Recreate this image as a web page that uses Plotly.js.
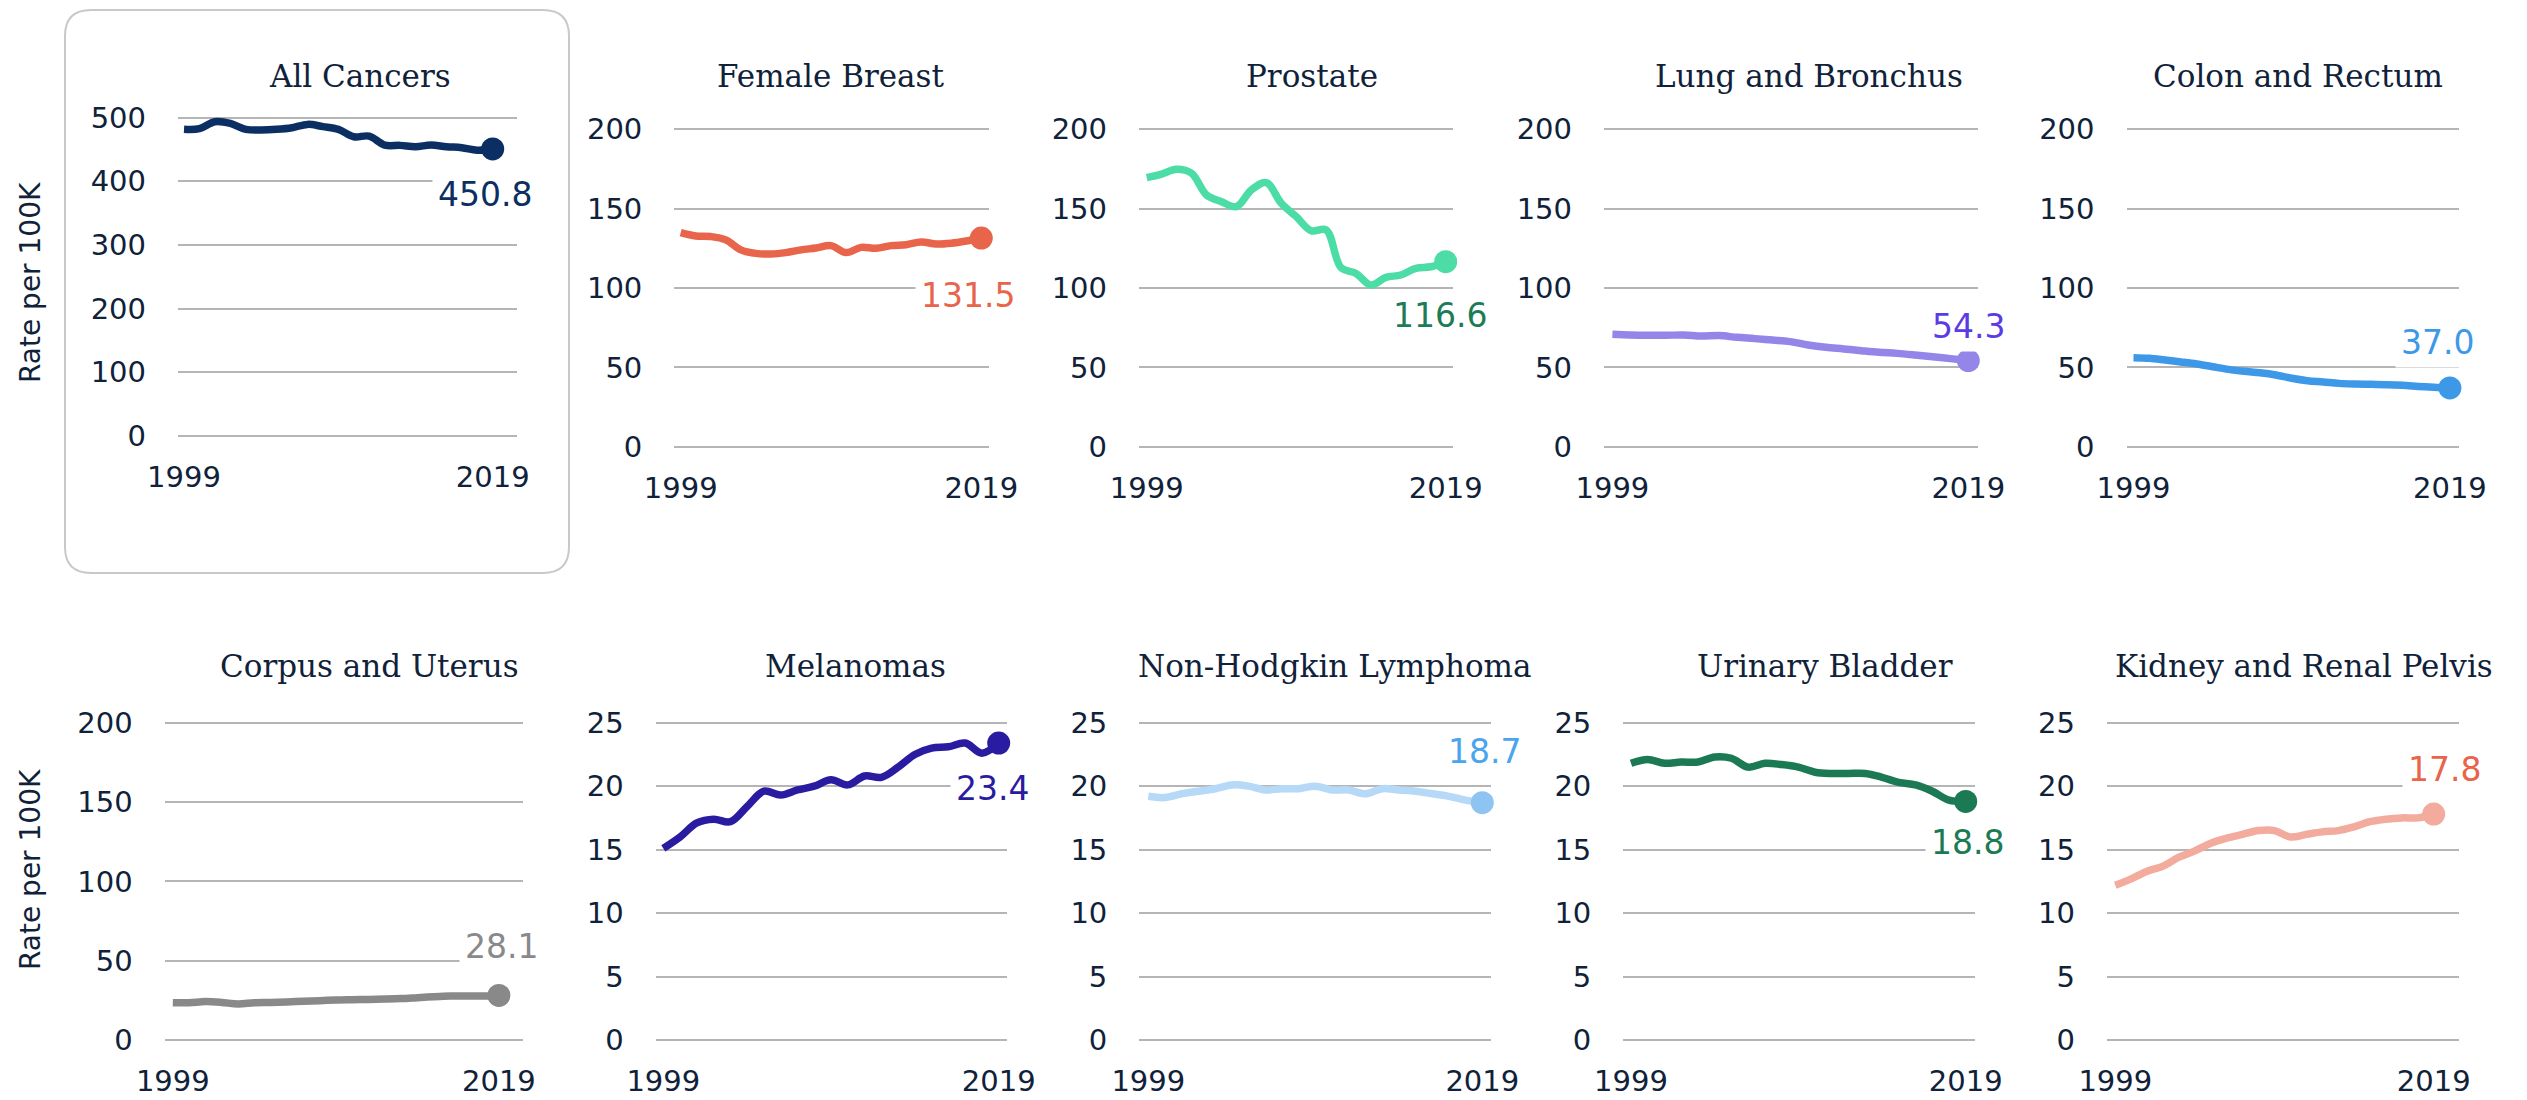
<!DOCTYPE html>
<html>
<head>
<meta charset="utf-8">
<script src="https://cdn.plot.ly/plotly-3.0.1.min.js"></script>
<style>
  html, body { margin: 0; padding: 0; background: #fff; }
</style>
</head>
<body>
<div id="chart" style="width:2527px;height:1100px"></div>
<script>
// incidence rate per 100K, 1999-2019
const years = [1999, 2000, 2001, 2002, 2003, 2004, 2005, 2006, 2007, 2008, 2009,
               2010, 2011, 2012, 2013, 2014, 2015, 2016, 2017, 2018, 2019];

const siteNames = ['All Cancers', 'Female Breast', 'Prostate', 'Lung and Bronchus', 'Colon and Rectum',
                   'Corpus and Uterus', 'Melanomas', 'Non-Hodgkin Lymphoma', 'Urinary Bladder', 'Kidney and Renal Pelvis'];

const allCancers = [481.7, 482.7, 493.7, 491.0, 481.7, 480.6, 481.7, 484.3, 489.5, 486.0, 481.7,
                    470.0, 471.0, 457.0, 456.5, 454.4, 457.0, 454.4, 452.8, 449.0, 450.8];
const femaleBreast = [134.9, 132.8, 132.4, 130.3, 124.0, 121.8, 121.4, 122.3, 124.0, 125.2, 126.7,
                      122.3, 125.6, 125.0, 126.7, 127.3, 129.0, 127.7, 128.2, 129.6, 131.5];
const prostate = [169.5, 171.8, 174.8, 172.3, 158.6, 154.4, 151.3, 161.8, 166.4, 153.4, 145.0,
                  136.1, 136.6, 112.8, 109.2, 101.9, 106.7, 108.2, 112.4, 113.4, 116.6];
const lung = [70.8, 70.4, 70.2, 70.2, 70.4, 69.7, 70.0, 68.9, 68.1, 67.2, 66.2,
              64.1, 62.6, 61.6, 60.5, 59.5, 58.8, 57.8, 56.7, 55.5, 54.3];
const colon = [56.1, 55.7, 54.6, 53.4, 52.1, 50.4, 48.7, 47.5, 46.6, 45.2, 43.1,
               41.6, 40.8, 39.9, 39.5, 39.3, 39.1, 38.7, 38.0, 37.4, 37.0];
const corpus = [23.5, 23.5, 24.2, 23.7, 22.7, 23.5, 23.7, 24.0, 24.4, 24.8, 25.2,
                25.4, 25.6, 25.8, 26.1, 26.7, 27.3, 27.7, 27.7, 27.7, 28.1];
const melanoma = [15.1, 16.0, 17.1, 17.4, 17.2, 18.4, 19.6, 19.3, 19.7, 20.0, 20.5,
                  20.1, 20.8, 20.7, 21.5, 22.5, 23.0, 23.1, 23.4, 22.6, 23.4];
const lymphoma = [19.2, 19.1, 19.4, 19.6, 19.8, 20.1, 20.0, 19.7, 19.8, 19.8, 20.0,
                  19.7, 19.7, 19.4, 19.8, 19.7, 19.6, 19.4, 19.2, 18.9, 18.7];
const bladder = [21.8, 22.1, 21.8, 21.9, 21.9, 22.3, 22.2, 21.5, 21.8, 21.7, 21.5,
                 21.1, 21.0, 21.0, 21.0, 20.7, 20.3, 20.1, 19.6, 18.9, 18.8];
const kidney = [12.2, 12.7, 13.3, 13.7, 14.4, 14.9, 15.5, 15.9, 16.2, 16.5, 16.5,
                16.0, 16.2, 16.4, 16.5, 16.8, 17.2, 17.4, 17.5, 17.5, 17.8];

const ticks500 = [0, 100, 200, 300, 400, 500];
const ticks200 = [0, 50, 100, 150, 200];
const ticks25 = [0, 5, 10, 15, 20, 25];
const yearTicks = [1999, 2019];

const W = 2527, H = 1100;
const NAVY = '#10223a';
const SANS = 'DejaVu Sans, sans-serif';
const SERIF = 'DejaVu Serif, serif';

// geometry is in page pixels: grid extent, first/last year position, top tick / zero line
const row1 = { yTop: 129.3, yZero: 446.7, titleY: 76 };
const row2 = { yTop: 722.7, yZero: 1040, titleY: 666 };
const panels = [
  { values: allCancers, ticks: ticks500, line: '#0b2f63', dot: '#0b2f63', label: '#0b2f63',
    gx: [178, 517], xs: 184, xe: 492.7, yTop: 117.7, yZero: 435.7, titleY: 76, titleX: 360, dx: -8, dy: 46 },
  { values: femaleBreast, ticks: ticks200, line: '#e8644a', dot: '#e8644a', label: '#e8644a',
    gx: [674.3, 988.7], xs: 680.7, xe: 981.3, ...row1, titleX: 830, dx: -13, dy: 57 },
  { values: prostate, ticks: ticks200, line: '#4cdca6', dot: '#4cdca6', label: '#1b7c55',
    gx: [1139, 1453.3], xs: 1146.7, xe: 1445.7, ...row1, titleX: 1312, dx: -6, dy: 54 },
  { values: lung, ticks: ticks200, line: '#9486e9', dot: '#9486e9', label: '#5a3be4',
    gx: [1604, 1978], xs: 1612.4, xe: 1968.3, ...row1, titleX: 1809, dx: 0, dy: -34 },
  { values: colon, ticks: ticks200, line: '#3d99e8', dot: '#3d99e8', label: '#3d99e8',
    gx: [2126.5, 2458.5], xs: 2133.5, xe: 2449.9, ...row1, titleX: 2298, dx: -12, dy: -45 },
  { values: corpus, ticks: ticks200, line: '#898989', dot: '#898989', label: '#898989',
    gx: [164.7, 523], xs: 172.8, xe: 498.9, ...row2, titleX: 369, dx: 3, dy: -49 },
  { values: melanoma, ticks: ticks25, line: '#2a1ca0', dot: '#2a1ca0', label: '#2a1ca0',
    gx: [655.7, 1007.3], xs: 663.3, xe: 998.7, ...row2, titleX: 855, dx: -6, dy: 45 },
  { values: lymphoma, ticks: ticks25, line: '#b5d9f6', dot: '#8ec4f1', label: '#4aa4ee',
    gx: [1139.3, 1491], xs: 1148.3, xe: 1482.3, ...row2, titleX: 1334, dx: 2, dy: -51 },
  { values: bladder, ticks: ticks25, line: '#1b7a54', dot: '#1b7a54', label: '#1b7a54',
    gx: [1623.3, 1975], xs: 1631, xe: 1965.7, ...row2, titleX: 1825, dx: 2, dy: 41 },
  { values: kidney, ticks: ticks25, line: '#f2ab9c', dot: '#f2ab9c', label: '#e8644a',
    gx: [2107, 2458.7], xs: 2115.3, xe: 2433.7, ...row2, titleX: 2304, dx: 11, dy: -45 }
];

const px2x = (px) => px / W;
const px2y = (py) => 1 - py / H;

let data = [];
let annotations = [];
let layout = {
  width: W, height: H,
  margin: { l: 0, r: 0, t: 0, b: 0 },
  paper_bgcolor: '#fff', plot_bgcolor: 'rgba(0,0,0,0)',
  showlegend: false,
  hovermode: false
};

const PAD = 8; // px of breathing room above the top grid line and below zero

panels.forEach((p, i) => {
  const n = i + 1;
  const xa = n === 1 ? 'xaxis' : 'xaxis' + n;
  const ya = n === 1 ? 'yaxis' : 'yaxis' + n;
  const xr = n === 1 ? 'x' : 'x' + n;
  const yr = n === 1 ? 'y' : 'y' + n;

  // x range so that 1999/2019 land where the lines start and end
  const perYear = (p.xe - p.xs) / (years[years.length - 1] - years[0]);
  const x0 = years[0] - (p.xs - p.gx[0]) / perYear;
  const x1 = years[years.length - 1] + (p.gx[1] - p.xe) / perYear;

  const top = p.ticks[p.ticks.length - 1];
  const perUnit = (p.yZero - p.yTop) / top;
  const y0 = -PAD / perUnit;
  const y1 = top + PAD / perUnit;

  layout[xa] = {
    domain: [px2x(p.gx[0]), px2x(p.gx[1])],
    range: [x0, x1],
    anchor: yr,
    tickvals: yearTicks,
    ticktext: yearTicks.map(String),
    showgrid: false, zeroline: false, showline: false, ticks: '',
    ticklabelstandoff: 13,
    tickfont: { family: SANS, size: 29, color: NAVY },
    fixedrange: true
  };
  layout[ya] = {
    domain: [px2y(p.yZero + PAD), px2y(p.yTop - PAD)],
    range: [y0, y1],
    anchor: xr,
    tickvals: p.ticks,
    ticktext: p.ticks.map(String),
    showgrid: true, gridcolor: '#b5b5b5', gridwidth: 2,
    zeroline: false, showline: false, ticks: '',
    ticklabelstandoff: 31,
    tickfont: { family: SANS, size: 29, color: NAVY },
    fixedrange: true
  };

  data.push({
    x: years, y: p.values, xaxis: xr, yaxis: yr,
    type: 'scatter', mode: 'lines',
    line: { color: p.line, width: 7.5, shape: 'spline', smoothing: 1 },
    cliponaxis: false
  });

  const last = p.values[p.values.length - 1];
  data.push({
    x: [years[years.length - 1]], y: [last], xaxis: xr, yaxis: yr,
    type: 'scatter', mode: 'markers',
    marker: { color: p.dot, size: 23 },
    cliponaxis: false
  });

  annotations.push({
    x: years[years.length - 1], y: last, xref: xr, yref: yr,
    text: last.toFixed(1), showarrow: false,
    xanchor: 'center', yanchor: 'middle',
    xshift: p.dx, yshift: -p.dy,
    bgcolor: '#ffffff', borderpad: 5,
    font: { family: SANS, size: 33, color: p.label }
  });

  annotations.push({
    x: px2x(p.titleX), y: px2y(p.titleY), xref: 'paper', yref: 'paper',
    text: siteNames[i], showarrow: false,
    xanchor: 'center', yanchor: 'middle',
    font: { family: SERIF, size: 31, color: NAVY }
  });
});

// y axis captions, one per row
[283, 870].forEach((cy) => {
  annotations.push({
    x: px2x(30), y: px2y(cy), xref: 'paper', yref: 'paper',
    text: 'Rate per 100K', showarrow: false, textangle: -90,
    xanchor: 'center', yanchor: 'middle',
    font: { family: SANS, size: 28, color: NAVY }
  });
});

// rounded frame around the All Cancers panel
function roundedBox(bx0, by0, bx1, by1, r) {
  const X = (v) => px2x(v).toFixed(5);
  const Y = (v) => px2y(v).toFixed(5);
  return 'M ' + X(bx0 + r) + ',' + Y(by0) +
    ' L ' + X(bx1 - r) + ',' + Y(by0) +
    ' Q ' + X(bx1) + ',' + Y(by0) + ' ' + X(bx1) + ',' + Y(by0 + r) +
    ' L ' + X(bx1) + ',' + Y(by1 - r) +
    ' Q ' + X(bx1) + ',' + Y(by1) + ' ' + X(bx1 - r) + ',' + Y(by1) +
    ' L ' + X(bx0 + r) + ',' + Y(by1) +
    ' Q ' + X(bx0) + ',' + Y(by1) + ' ' + X(bx0) + ',' + Y(by1 - r) +
    ' L ' + X(bx0) + ',' + Y(by0 + r) +
    ' Q ' + X(bx0) + ',' + Y(by0) + ' ' + X(bx0 + r) + ',' + Y(by0) + ' Z';
}

layout.shapes = [{
  type: 'path', xref: 'paper', yref: 'paper',
  path: roundedBox(65, 10, 569, 573, 26),
  line: { color: '#c9c9c9', width: 2 },
  layer: 'below'
}];
layout.annotations = annotations;

Plotly.newPlot('chart', data, layout, { staticPlot: true, displayModeBar: false });
</script>
</body>
</html>
